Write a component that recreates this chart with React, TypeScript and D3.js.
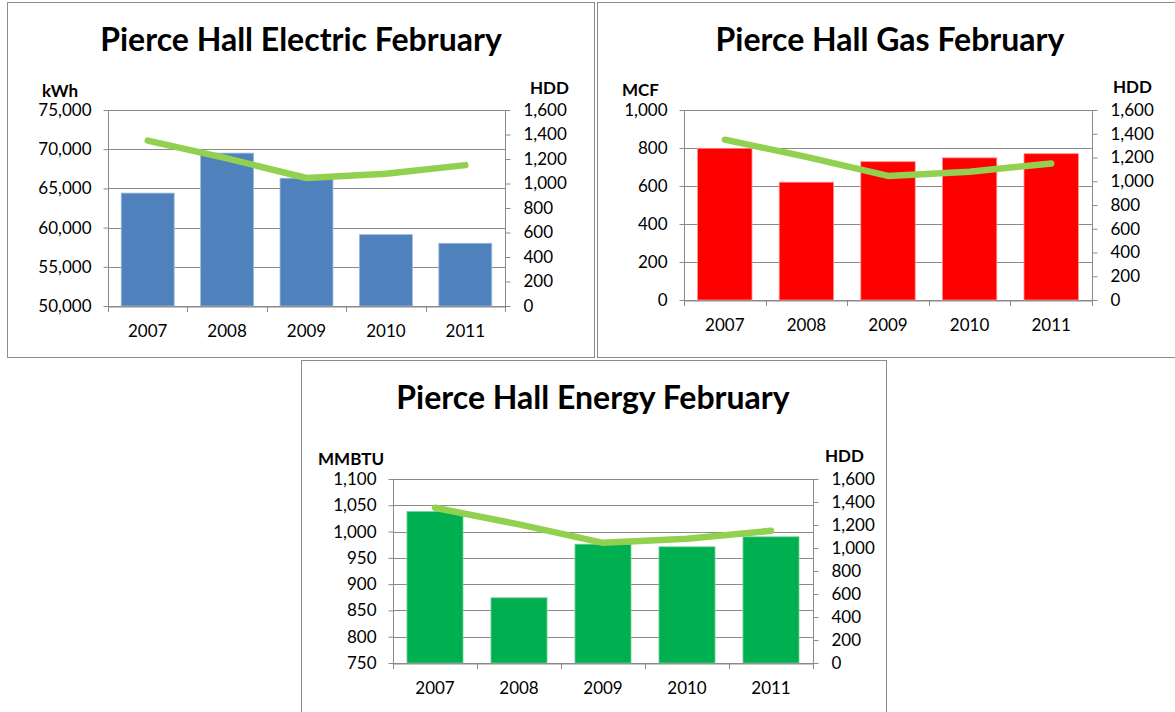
import React, { useRef, useEffect } from 'react';
import * as d3 from 'd3';

const years = ['2007', '2008', '2009', '2010', '2011'];
const hdd = [1350, 1205, 1045, 1080, 1150];
const electricKwh = [64400, 69500, 66300, 59100, 58000];
const gasMcf = [798, 620, 728, 748, 770];
const energyMmbtu = [1038, 874, 976, 971, 990];

const electricTicks = [50000, 55000, 60000, 65000, 70000, 75000];
const gasTicks = [0, 200, 400, 600, 800, 1000];
const energyTicks = [750, 800, 850, 900, 950, 1000, 1050, 1100];
const hddTicks = [0, 200, 400, 600, 800, 1000, 1200, 1400, 1600];

const FONT = 'Lato, "Open Sans", sans-serif';

const panels = [
  {
    title: 'Pierce Hall Electric February', unit: 'kWh', values: electricKwh, ticks: electricTicks,
    color: '#4F81BD', edge: '#9DB9DD',
    box: [7, 2, 587, 355], plot: [108, 110, 505, 306], titleX: 301, titleY: 51,
    unitX: 42, unitY: 97, hddX: 530, hddY: 94, catY: 337,
  },
  {
    title: 'Pierce Hall Gas February', unit: 'MCF', values: gasMcf, ticks: gasTicks,
    color: '#FF0000', edge: '#FF9090',
    box: [597, 2, 590, 355], plot: [684, 110, 1092, 300], titleX: 890, titleY: 51,
    unitX: 622, unitY: 96, hddX: 1113, hddY: 93, catY: 331,
  },
  {
    title: 'Pierce Hall Energy February', unit: 'MMBTU', values: energyMmbtu, ticks: energyTicks,
    color: '#00B050', edge: '#70D090',
    box: [301, 360, 585, 370], plot: [393, 479, 813, 663], titleX: 593, titleY: 409,
    unitX: 318, unitY: 465, hddX: 825, hddY: 462, catY: 694,
  },
];

const App = () => {
  const svgRef = useRef(null);

  useEffect(() => {
    const svg = d3.select(svgRef.current);
    svg.selectAll('*').remove();
    const fmt = d3.format(',');

    panels.forEach(p => {
      const [bx, by, bw, bh] = p.box;
      const [left, top, right, bottom] = p.plot;
      const g = svg.append('g');

      g.append('rect')
        .attr('x', bx + 0.5).attr('y', by + 0.5)
        .attr('width', bw).attr('height', bh)
        .attr('fill', '#fff').attr('stroke', '#8c8c8c');

      const x = d3.scaleBand().domain(years).range([left, right]).paddingInner(0);
      const y = d3.scaleLinear().domain(d3.extent(p.ticks)).range([bottom, top]);
      const y2 = d3.scaleLinear().domain([0, 1600]).range([bottom, top]);

      // gridlines
      g.append('g').selectAll('line').data(p.ticks).enter().append('line')
        .attr('x1', left).attr('x2', right)
        .attr('y1', d => Math.round(y(d)) + 0.5).attr('y2', d => Math.round(y(d)) + 0.5)
        .attr('stroke', '#8a8a8a').attr('stroke-width', 1);

      // bars, gap width 50%
      const barW = x.bandwidth() / 1.5;
      g.append('g').selectAll('rect').data(p.values).enter().append('rect')
        .attr('x', (d, i) => x(years[i]) + (x.bandwidth() - barW) / 2)
        .attr('y', d => y(d))
        .attr('width', barW)
        .attr('height', d => bottom - y(d))
        .attr('fill', p.color)
        .attr('stroke', p.edge).attr('stroke-width', 0.8);

      // axes
      const la = g.append('g').attr('transform', `translate(${Math.round(left) + 0.5},0)`)
        .call(d3.axisLeft(y).tickValues(p.ticks).tickSize(5).tickFormat(fmt));
      const ra = g.append('g').attr('transform', `translate(${Math.round(right) + 0.5},0)`)
        .call(d3.axisRight(y2).tickValues(hddTicks).tickSize(5).tickFormat(fmt));
      const ba = g.append('g').attr('transform', `translate(0,${Math.round(bottom) + 0.5})`)
        .call(d3.axisBottom(x).tickSize(0).tickFormat(() => ''));
      g.append('g').selectAll('line').data(d3.range(6)).enter().append('line')
        .attr('x1', i => Math.round(left + i * x.bandwidth()) + 0.5)
        .attr('x2', i => Math.round(left + i * x.bandwidth()) + 0.5)
        .attr('y1', bottom).attr('y2', bottom + 6)
        .attr('stroke', '#8a8a8a');

      [la, ra, ba].forEach(a => {
        a.select('.domain').attr('stroke', '#8a8a8a');
        a.selectAll('.tick line').attr('stroke', '#8a8a8a');
        a.selectAll('text').attr('font-family', FONT).attr('font-size', 17).attr('fill', '#000');
      });
      la.select('.domain').attr('d', `M0,${top}V${bottom}`);
      ra.select('.domain').attr('d', `M0,${top}V${bottom}`);
      la.selectAll('.tick text').attr('x', -17);
      ra.selectAll('.tick text').attr('x', 18);

      // category labels
      g.append('g').selectAll('text').data(years).enter().append('text')
        .attr('x', d => x(d) + x.bandwidth() / 2)
        .attr('y', p.catY)
        .attr('text-anchor', 'middle')
        .attr('font-family', FONT).attr('font-size', 17)
        .text(d => d);

      // HDD line
      const line = d3.line()
        .x((d, i) => x(years[i]) + x.bandwidth() / 2)
        .y(d => y2(d));
      g.append('path').datum(hdd)
        .attr('d', line)
        .attr('fill', 'none')
        .attr('stroke', '#92D050')
        .attr('stroke-width', 6.5)
        .attr('stroke-linecap', 'round')
        .attr('stroke-linejoin', 'round');

      // titles
      g.append('text')
        .attr('x', p.titleX)
        .attr('y', p.titleY)
        .attr('text-anchor', 'middle')
        .attr('font-family', FONT).attr('font-weight', 'bold').attr('font-size', 32)
        .text(p.title);
      g.append('text')
        .attr('x', p.unitX).attr('y', p.unitY)
        .attr('font-family', FONT).attr('font-weight', 'bold').attr('font-size', 17)
        .text(p.unit);
      g.append('text')
        .attr('x', p.hddX).attr('y', p.hddY)
        .attr('font-family', FONT).attr('font-weight', 'bold').attr('font-size', 17)
        .text('HDD');
    });
  }, []);

  return (
    <svg ref={svgRef} width={1175} height={712}
      style={{ position: 'absolute', left: 0, top: 0, background: '#fff' }} />
  );
};

export default App;
